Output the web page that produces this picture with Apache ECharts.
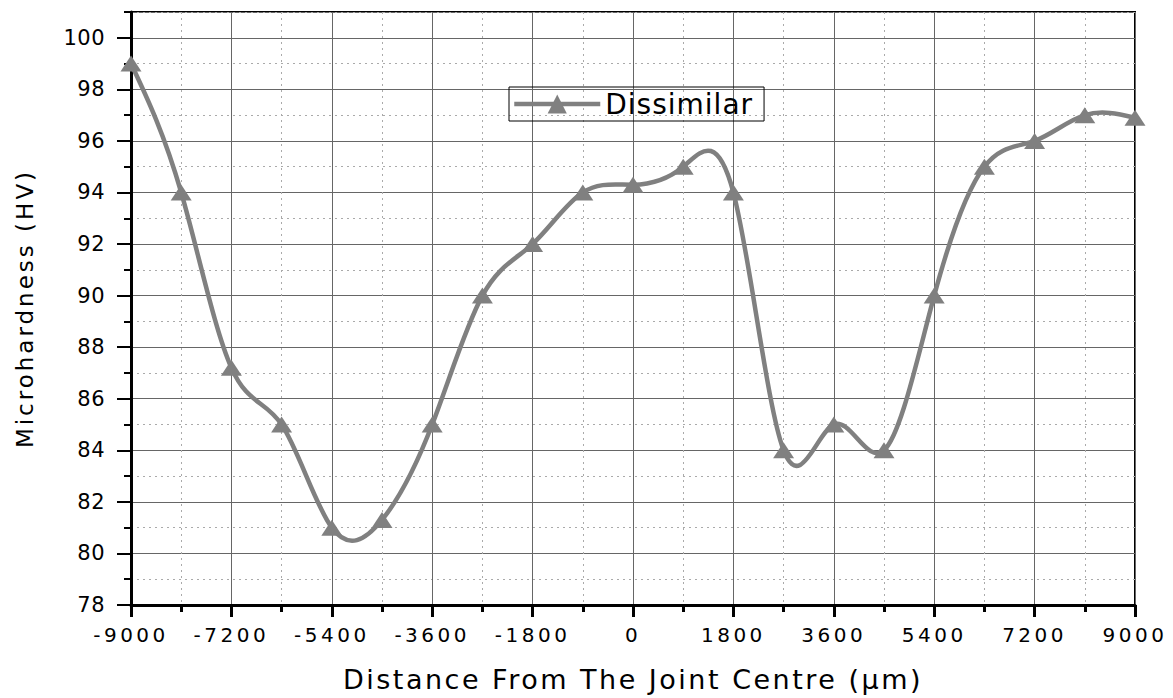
<!DOCTYPE html>
<html>
<head>
<meta charset="utf-8">
<title>Microhardness profile</title>
<script src="https://cdn.jsdelivr.net/npm/echarts@6/dist/echarts.min.js"></script>
<style>
  html, body { margin: 0; padding: 0; background: #fff; }
  #chart { width: 1173px; height: 698px; }
  /* spaced-out lettering, keyed on each text group's font size */
  #chart text[style*="20px"] { letter-spacing: 3.5px; }
  #chart text[style*="21px"] { letter-spacing: 0.5px; }
  #chart text[style*="23px"] { letter-spacing: 3px; }
  #chart text[style*="27px"] { letter-spacing: 2.5px; }
  #chart text[style*="28px"] { letter-spacing: 1px; }
</style>
</head>
<body>
<div id="chart"></div>
<script>
// Measured hardness along the traverse (µm from the joint centre)
const distance = [-9000, -8100, -7200, -6300, -5400, -4500, -3600, -2700, -1800, -900,
                  0, 900, 1800, 2700, 3600, 4500, 5400, 6300, 7200, 8100, 9000];
const hardness = [99.0, 94.0, 87.2, 85.0, 81.0, 81.3, 85.0, 90.0, 92.0, 94.0,
                  94.3, 95.0, 94.0, 84.0, 85.0, 84.0, 90.0, 95.0, 96.0, 97.0, 96.9];

// Axis tick labels
const xTicks = [-9000, -7200, -5400, -3600, -1800, 0, 1800, 3600, 5400, 7200, 9000];
const yTicks = [78, 80, 82, 84, 86, 88, 90, 92, 94, 96, 98, 100];
const yTop = 101;

const seriesName = 'Dissimilar';
const xTitle = 'Distance From The Joint Centre (µm)';
const yTitle = 'Microhardness (HV)';

const FONT = '"DejaVu Sans", "Liberation Sans", sans-serif';
const GREY = '#808080';
const LINE_W = 4.5;

const points = distance.map((d, i) => [d, hardness[i]]);

// Natural cubic spline through the measurements: slope at every node,
// used to build one cubic Bezier per interval.
function splineSlopes(xs, ys) {
  const n = xs.length - 1;
  const h = [];
  for (let i = 0; i < n; i++) h.push(xs[i + 1] - xs[i]);
  const a = new Array(n + 1).fill(0), b = new Array(n + 1).fill(1),
        c = new Array(n + 1).fill(0), r = new Array(n + 1).fill(0);
  for (let i = 1; i < n; i++) {
    a[i] = h[i - 1];
    b[i] = 2 * (h[i - 1] + h[i]);
    c[i] = h[i];
    r[i] = 6 * ((ys[i + 1] - ys[i]) / h[i] - (ys[i] - ys[i - 1]) / h[i - 1]);
  }
  // Thomas algorithm (M0 = Mn = 0)
  const cp = new Array(n + 1).fill(0), rp = new Array(n + 1).fill(0);
  for (let i = 1; i <= n; i++) {
    const m = b[i] - a[i] * cp[i - 1];
    cp[i] = c[i] / m;
    rp[i] = (r[i] - a[i] * rp[i - 1]) / m;
  }
  const M = new Array(n + 1).fill(0);
  for (let i = n - 1; i >= 1; i--) M[i] = rp[i] - cp[i] * M[i + 1];
  const d = [];
  for (let i = 0; i < n; i++) {
    d.push((ys[i + 1] - ys[i]) / h[i] - h[i] * (2 * M[i] + M[i + 1]) / 6);
  }
  d.push((ys[n] - ys[n - 1]) / h[n - 1] + h[n - 1] * (M[n - 1] + 2 * M[n]) / 6);
  return d;
}
const slopes = splineSlopes(distance, hardness);

function renderSegment(params, api) {
  const i = params.dataIndex;
  if (i >= distance.length - 1) return null;
  const x0 = distance[i], x1 = distance[i + 1];
  const y0 = hardness[i], y1 = hardness[i + 1];
  const k = (x1 - x0) / 3;
  const p0 = api.coord([x0, y0]);
  const c0 = api.coord([x0 + k, y0 + slopes[i] * k]);
  const c1 = api.coord([x1 - k, y1 - slopes[i + 1] * k]);
  const p1 = api.coord([x1, y1]);
  return {
    type: 'bezierCurve',
    shape: { x1: p0[0], y1: p0[1], cpx1: c0[0], cpy1: c0[1],
             cpx2: c1[0], cpy2: c1[1], x2: p1[0], y2: p1[1] },
    style: { stroke: GREY, lineWidth: LINE_W, fill: null, lineCap: 'round' }
  };
}

const chart = echarts.init(document.getElementById('chart'), null, { renderer: 'svg' });

chart.setOption({
  animation: false,
  backgroundColor: '#fff',
  grid: {
    left: 131, right: 38, top: 12, bottom: 91,
    show: true, borderColor: '#000', borderWidth: 2, backgroundColor: 'transparent'
  },
  legend: {
    left: 509, top: 87,
    padding: [3, 21, 3, 3],
    borderColor: '#000', borderWidth: 1,
    itemWidth: 86, itemHeight: 24,
    lineStyle: { color: GREY, width: LINE_W, opacity: 1, type: 'solid' },
    itemStyle: { color: GREY, borderWidth: 0, opacity: 1 },
    textStyle: { fontFamily: FONT, fontSize: 28, color: '#000' },
    data: [seriesName]
  },
  xAxis: {
    type: 'value',
    min: xTicks[0], max: xTicks[xTicks.length - 1],
    interval: xTicks[1] - xTicks[0],
    name: xTitle, nameLocation: 'middle', nameGap: 61,
    nameTextStyle: { fontFamily: FONT, fontSize: 27, color: '#000' },
    axisLine: { show: true, onZero: false, lineStyle: { color: '#000', width: 3 } },
    axisTick: { show: true, length: 12, lineStyle: { color: '#000', width: 3 } },
    minorTick: { show: true, splitNumber: 2, length: 7, lineStyle: { color: '#000', width: 3 } },
    axisLabel: { fontFamily: FONT, fontSize: 20, color: '#000', margin: 20,
                 formatter: v => String(v) },
    splitLine: { show: true, lineStyle: { color: '#666', width: 1 } },
    minorSplitLine: { show: true, lineStyle: { color: '#aaa', width: 1, type: [2, 4] } }
  },
  yAxis: [
    {
      type: 'value', position: 'left',
      min: yTicks[0], max: yTop, interval: yTicks[1] - yTicks[0],
      name: yTitle, nameLocation: 'middle', nameGap: 95,
      nameTextStyle: { fontFamily: FONT, fontSize: 23, color: '#000' },
      axisLine: { show: true, onZero: false, lineStyle: { color: '#000', width: 3 } },
      axisTick: { show: true, length: 14, lineStyle: { color: '#000', width: 2 } },
      axisLabel: { fontFamily: FONT, fontSize: 21, color: '#000', margin: 26, showMaxLabel: false,
                   formatter: v => String(v) },
      splitLine: { show: true, lineStyle: { color: '#666', width: 1 } }
    },
    {
      // minor ticks and dotted grid at the odd values
      type: 'value', position: 'left',
      min: yTicks[0], max: yTop, interval: 1,
      axisLine: { show: false, onZero: false },
      axisTick: { show: true, length: 7, lineStyle: { color: '#000', width: 2 } },
      axisLabel: { show: false },
      splitLine: { show: true, lineStyle: { color: ['rgba(0,0,0,0)', '#aaa'], width: 1, type: [2, 4] } }
    }
  ],
  series: [
    {
      name: 'spline',
      type: 'custom',
      yAxisIndex: 0,
      data: points,
      encode: { x: 0, y: 1 },
      renderItem: renderSegment,
      silent: true,
      z: 4
    },
    {
      name: seriesName,
      type: 'line',
      yAxisIndex: 0,
      data: points,
      symbol: 'triangle',
      symbolSize: [21, 16],
      showAllSymbol: true,
      clip: false,
      lineStyle: { color: GREY, width: 0, opacity: 0 },
      itemStyle: { color: GREY, borderWidth: 0 },
      emphasis: { disabled: true },
      z: 5
    }
  ]
});
</script>
</body>
</html>
